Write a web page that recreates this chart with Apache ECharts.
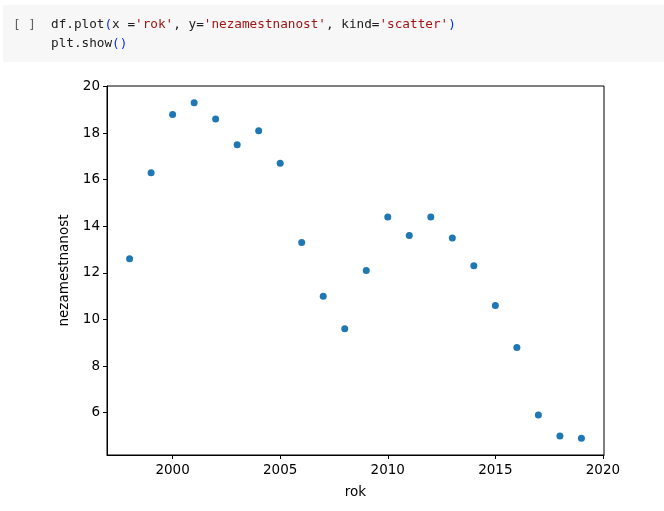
<!DOCTYPE html>
<html>
<head>
<meta charset="utf-8">
<script src="https://cdn.jsdelivr.net/npm/echarts@6/dist/echarts.min.js"></script>
<style>
  html, body { margin: 0; padding: 0; background: #fff; }
  #chart { width: 664px; height: 511px; }
</style>
</head>
<body>
<div id="chart"></div>
<script>
// --- Data ---
const years = [1998, 1999, 2000, 2001, 2002, 2003, 2004, 2005, 2006, 2007, 2008,
  2009, 2010, 2011, 2012, 2013, 2014, 2015, 2016, 2017, 2018, 2019];
const nezamestnanost = [12.6, 16.3, 18.8, 19.3, 18.6, 17.5, 18.1, 16.7, 13.3, 11.0, 9.6,
  12.1, 14.4, 13.6, 14.4, 13.5, 12.3, 10.6, 8.8, 5.9, 5.0, 4.9];
const xTicks = [2000, 2005, 2010, 2015, 2020];
const yTicks = [6, 8, 10, 12, 14, 16, 18, 20];

// matplotlib-style 5% margins around the data
const xMin = 1996.95, xMax = 2020.05;
const yMin = 4.18, yMax = 20.02;

const tickFont = { color: "#000", fontFamily: "DejaVu Sans", fontSize: 13.5 };
const codeFont = "12.7px 'DejaVu Sans Mono'";

const chart = echarts.init(document.getElementById("chart"), null, { renderer: "canvas" });

chart.setOption({
  animation: false,
  backgroundColor: "#fff",
  // --- Notebook code cell above the plot ---
  graphic: [
    {
      type: "rect",
      shape: { x: 3, y: 5, width: 661, height: 57 },
      style: { fill: "#f7f7f7" },
      silent: true
    },
    {
      type: "text",
      x: 13, y: 25,
      style: { text: "[ ]", fill: "#616161", font: codeFont, verticalAlign: "middle" }
    },
    {
      type: "text",
      x: 51, y: 25,
      style: {
        text: "{t|df.plot}{p|(}{t|x =}{s|'rok'}{t|, y=}{s|'nezamestnanost'}{t|, kind=}{s|'scatter'}{p|)}",
        verticalAlign: "middle",
        font: codeFont,
        rich: {
          t: { fill: "#212121", font: codeFont },
          s: { fill: "#a31515", font: codeFont },
          p: { fill: "#0431fa", font: codeFont }
        }
      }
    },
    {
      type: "text",
      x: 51, y: 44,
      style: {
        text: "{t|plt.show}{p|()}",
        verticalAlign: "middle",
        font: codeFont,
        rich: {
          t: { fill: "#212121", font: codeFont },
          p: { fill: "#0431fa", font: codeFont }
        }
      }
    }
  ],
  grid: {
    left: 107, top: 86, width: 497, height: 369,
    show: true, borderColor: "#000", borderWidth: 1, backgroundColor: "#fff"
  },
  xAxis: {
    type: "value",
    min: xMin, max: xMax,
    name: "rok",
    nameLocation: "middle",
    nameGap: 30,
    nameTextStyle: tickFont,
    splitLine: { show: false },
    axisLine: { show: true, onZero: false, lineStyle: { color: "#000", width: 1 } },
    axisTick: { show: true, length: 4, lineStyle: { color: "#000" }, customValues: xTicks },
    axisLabel: { ...tickFont, margin: 8, customValues: xTicks, formatter: (v) => String(v) }
  },
  yAxis: {
    type: "value",
    min: yMin, max: yMax,
    name: "nezamestnanost",
    nameLocation: "middle",
    nameGap: 29,
    nameTextStyle: tickFont,
    splitLine: { show: false },
    axisLine: { show: true, onZero: false, lineStyle: { color: "#000", width: 1 } },
    axisTick: { show: true, length: 4, lineStyle: { color: "#000" }, customValues: yTicks },
    axisLabel: { ...tickFont, margin: 7, customValues: yTicks, formatter: (v) => String(v) }
  },
  series: [
    {
      type: "scatter",
      symbol: "circle",
      symbolSize: 7,
      itemStyle: { color: "#1f77b4", opacity: 1 },
      data: years.map((y, i) => [y, nezamestnanost[i]])
    }
  ]
});
</script>
</body>
</html>
